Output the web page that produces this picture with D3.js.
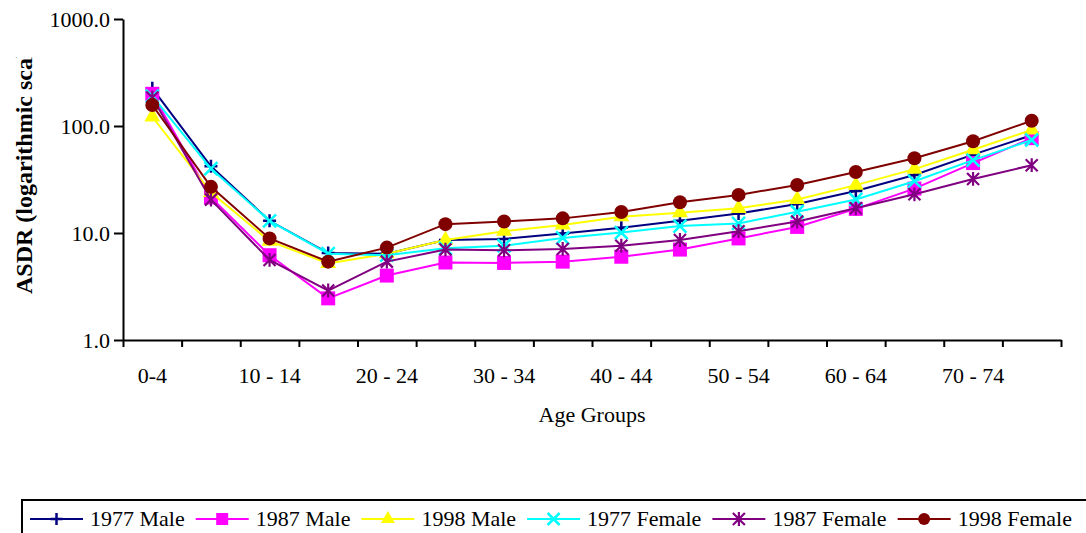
<!DOCTYPE html>
<html>
<head>
<meta charset="utf-8">
<script src="https://cdn.jsdelivr.net/npm/d3@7"></script>
<style>
  html, body { margin: 0; padding: 0; background: #fff; }
  svg { display: block; }
  text { font-family: "Liberation Serif", "Times New Roman", serif; fill: #000; }
</style>
</head>
<body>
<svg id="chart" width="1086" height="533"></svg>
<script>
// Age groups (five-year bands)
const ageGroups = ["0-4", "5 - 9", "10 - 14", "15 - 19", "20 - 24", "25 - 29", "30 - 34", "35 - 39",
                   "40 - 44", "45 - 49", "50 - 54", "55 - 59", "60 - 64", "65 - 69", "70 - 74", "75 - 79"];

// Age-specific death rates per series
const male1977   = [225, 42, 13, 6.5, 6.4, 8.6, 8.8, 9.9, 11.2, 13.0, 15.2, 18.7, 24.7, 34.8, 54, 82];
const male1987   = [200, 21.5, 6.2, 2.45, 4.0, 5.3, 5.25, 5.4, 6.0, 7.0, 8.9, 11.4, 16.8, 26, 45, 77];
const male1998   = [122, 24, 8.4, 5.2, 6.4, 8.6, 10.4, 11.9, 14.2, 15.5, 17.0, 20.6, 28, 39.5, 60, 92];
const female1977 = [190, 40, 13, 6.4, 6.2, 7.2, 7.6, 9.0, 10.1, 11.6, 12.3, 15.8, 20.6, 30.5, 48, 74];
const female1987 = [185, 20.5, 5.6, 2.9, 5.4, 7.0, 6.9, 7.1, 7.6, 8.6, 10.4, 12.8, 17.0, 23, 32, 43];
const female1998 = [157, 27, 8.9, 5.4, 7.3, 12.1, 12.8, 13.7, 15.7, 19.4, 22.7, 28.1, 37.2, 50, 72, 112];

const seriesNames = ["1977 Male", "1987 Male", "1998 Male", "1977 Female", "1987 Female", "1998 Female"];
const yTicks = [1, 10, 100, 1000];
const xLabelText = "Age Groups";
const yLabelText = "ASDR (logarithmic scale)";

const series = [
  { name: seriesNames[0], values: male1977,   color: "#000080", marker: "plus" },
  { name: seriesNames[1], values: male1987,   color: "#FF00FF", marker: "square" },
  { name: seriesNames[2], values: male1998,   color: "#FFFF00", marker: "triangle" },
  { name: seriesNames[3], values: female1977, color: "#00FFFF", marker: "cross" },
  { name: seriesNames[4], values: female1987, color: "#800080", marker: "star" },
  { name: seriesNames[5], values: female1998, color: "#800000", marker: "circle" }
];

const svg = d3.select("#chart");
const plot = { left: 123, right: 1061, top: 19, bottom: 340 };

const x = d3.scaleBand().domain(ageGroups).range([plot.left, plot.right]);
const xEdges = d3.scaleLinear().domain([0, ageGroups.length]).range([plot.left, plot.right]);
const y = d3.scaleLog().domain([1, 1000]).range([plot.bottom, plot.top]);
const cx = d => x(d) + x.bandwidth() / 2;

// Marker drawing
function markerPath(type, s) {
  const h = s / 2;
  switch (type) {
    case "plus":     return `M0,${-h}V${h}M${-h},0H${h}`;
    case "cross":    return `M${-h},${-h}L${h},${h}M${-h},${h}L${h},${-h}`;
    case "star":     return `M${-h},${-h}L${h},${h}M${-h},${h}L${h},${-h}M0,${-h * 1.15}V${h * 1.15}`;
    case "square":   return d3.symbol(d3.symbolSquare, s * s)();
    case "triangle": return d3.symbol(d3.symbolTriangle, s * s * Math.sqrt(3) / 4)();
    case "circle":   return d3.symbol(d3.symbolCircle, Math.PI * h * h)();
  }
}
const filled = { square: true, triangle: true, circle: true };
const markerSize = { plus: 13, cross: 13, star: 12, square: 14, triangle: 16, circle: 14 };

function drawMarker(g, type, color, size) {
  const p = g.append("path").attr("d", markerPath(type, size));
  if (filled[type]) p.attr("fill", color).attr("stroke", "none");
  else p.attr("fill", "none").attr("stroke", color).attr("stroke-width", type === "star" ? 2.2 : 2.5);
  return p;
}

// Y axis (log)
const yAxis = svg.append("g")
  .attr("transform", `translate(${plot.left},0)`)
  .call(d3.axisLeft(y).tickValues(yTicks).tickFormat(d3.format(".1f")).tickSize(9).tickSizeOuter(0).tickPadding(4));
yAxis.select(".domain").attr("stroke", "#000").attr("stroke-width", 2);
yAxis.selectAll(".tick line").attr("stroke", "#000").attr("stroke-width", 2);
yAxis.selectAll(".tick text").attr("font-size", 22).attr("font-family", "Liberation Serif").attr("fill", "#000");

// X axis: tick marks on band edges, labels on every other band
const xTicks = svg.append("g")
  .attr("transform", `translate(0,${plot.bottom})`)
  .call(d3.axisBottom(xEdges).tickValues(d3.range(0, ageGroups.length + 1)).tickSize(7).tickSizeOuter(0).tickFormat(""));
xTicks.select(".domain").attr("stroke", "#000").attr("stroke-width", 2);
xTicks.selectAll(".tick line").attr("stroke", "#000").attr("stroke-width", 2);

const xAxis = svg.append("g")
  .attr("transform", `translate(0,${plot.bottom})`)
  .call(d3.axisBottom(x).tickSize(0).tickPadding(27).tickFormat((d, i) => i % 2 === 0 ? d : ""));
xAxis.select(".domain").remove();
xAxis.selectAll(".tick text").attr("font-size", 22).attr("font-family", "Liberation Serif").attr("fill", "#000");

// Axis titles
svg.append("text")
  .attr("x", (plot.left + plot.right) / 2).attr("y", 422)
  .attr("text-anchor", "middle").attr("font-size", 22)
  .text(xLabelText);

// The vertical title runs past the top of its frame and is cut there
svg.append("clipPath").attr("id", "ylabel-clip")
  .append("rect").attr("x", 0).attr("y", 57).attr("width", 60).attr("height", 300);
svg.append("g").attr("clip-path", "url(#ylabel-clip)")
  .append("text")
  .attr("transform", "translate(32,294) rotate(-90)")
  .attr("text-anchor", "start").attr("font-size", 24).attr("font-weight", "bold")
  .text(yLabelText);

// Series lines and markers
const line = d3.line().x((v, i) => cx(ageGroups[i])).y(v => y(v));
series.forEach(s => {
  const g = svg.append("g");
  g.append("path").datum(s.values).attr("d", line)
    .attr("fill", "none").attr("stroke", s.color).attr("stroke-width", 2);
  s.values.forEach((v, i) => {
    const m = g.append("g").attr("transform", `translate(${cx(ageGroups[i])},${y(v)})`);
    drawMarker(m, s.marker, s.color, markerSize[s.marker]);
  });
});

// Legend
const legend = svg.append("g");
legend.append("rect").attr("x", 22).attr("y", 500).attr("width", 1100).attr("height", 60)
  .attr("fill", "#fff").attr("stroke", "#000").attr("stroke-width", 2);
let lx = 30;
const ly = 519;
series.forEach(s => {
  const item = legend.append("g");
  item.append("line").attr("x1", lx).attr("x2", lx + 53).attr("y1", ly).attr("y2", ly)
    .attr("stroke", s.color).attr("stroke-width", 2);
  const m = item.append("g").attr("transform", `translate(${lx + 26.5},${ly})`);
  drawMarker(m, s.marker, s.color, s.marker === "square" ? 12 : (s.marker === "triangle" ? 14 : 12));
  const t = item.append("text").attr("x", lx + 60).attr("y", 526).attr("font-size", 22).text(s.name);
  lx += 60 + t.node().getComputedTextLength() + 11;
});
</script>
</body>
</html>
